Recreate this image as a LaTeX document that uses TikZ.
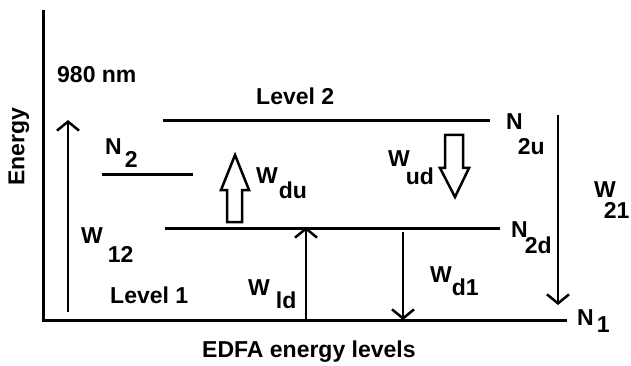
\documentclass[tikz,border=0pt]{standalone}
\usepackage{fontspec}
\setmainfont{Liberation Sans}
\usetikzlibrary{arrows.meta}
\newcommand{\subtxt}[4]{#1\hspace{#3}\raisebox{#4}{#2}}
\tikzset{
  level/.style={line width=3pt},
  barb/.style={line width=2.5pt,-{Straight Barb[length=9pt,width=22pt]}},
  hollow/.style={line width=2.5pt,line join=miter},
  lbl/.style={inner sep=0pt,anchor=base west}
}
\begin{document}
\begin{tikzpicture}[x=1pt,y=-1pt,font=\fontsize{23}{27}\selectfont\bfseries]
  \useasboundingbox (0,0) rectangle (631,366);
  % axes
  \coordinate (top) at (43,10);
  \coordinate (orig) at (43,320);
  \coordinate (xend) at (567,320);
  \draw[level] (top) -- (orig) -- (xend);
  % energy levels
  \coordinate (L2a) at (163,121);  \coordinate (L2b) at (490,121);
  \coordinate (N2a) at (102,175);  \coordinate (N2b) at (193,175);
  \coordinate (L2da) at (165,228); \coordinate (L2db) at (500,228);
  \draw[level] (L2a) -- (L2b);
  \draw[level] (N2a) -- (N2b);
  \draw[level] (L2da) -- (L2db);
  % transitions
  \coordinate (pumpS) at (68,312);  \coordinate (pumpE) at (68,120);
  \coordinate (sponS) at (558,115); \coordinate (sponE) at (558,305);
  \coordinate (ldS) at (306,320);   \coordinate (ldE) at (306,227);
  \coordinate (dlS) at (403,232);   \coordinate (dlE) at (403,320);
  \draw[barb] (pumpS) -- (pumpE);
  \draw[barb] (sponS) -- (sponE);
  \draw[barb] (ldS) -- (ldE);
  \draw[barb] (dlS) -- (dlE);
  % hollow arrows
  \draw[hollow] (227,222) -- (227,190) -- (221,190) -- (235,155) -- (249,190)
    -- (242,190) -- (242,222) -- cycle;
  \draw[hollow] (445,135) -- (445,168) -- (440,168) -- (455,197) -- (469,168)
    -- (463,168) -- (463,135) -- cycle;
  % labels
  \node[lbl] (nm) at (57,83) {980 nm};
  \node[lbl] (lv2) at (256,105) {Level 2};
  \node[lbl] (lv1) at (110,303) {Level 1};
  \node[lbl] (cap) at (202,357) {EDFA energy levels};
  \node[rotate=90] (en) at (19,147) {Energy};
  \node[lbl] (n2) at (105,155) {\subtxt{N}{2}{3pt}{-13pt}};
  \node[lbl] (wdu) at (256,183) {\subtxt{W}{du}{1pt}{-15pt}};
  \node[lbl] (n2u) at (506,130) {\subtxt{N}{2u}{-5pt}{-25pt}};
  \node[lbl] (wud) at (388,167) {\subtxt{W}{ud}{-4pt}{-18pt}};
  \node[lbl] (n2d) at (511,237) {\subtxt{N}{2d}{-3pt}{-16pt}};
  \node[lbl] (w21) at (594,197) {\subtxt{W}{21}{-12pt}{-21pt}};
  \node[lbl] (w12) at (81,243) {\subtxt{W}{12}{5pt}{-19pt}};
  \node[lbl] (wld) at (248,295) {\subtxt{W}{ld}{6pt}{-13pt}};
  \node[lbl] (wd1) at (430,282) {\subtxt{W}{d1}{0pt}{-13pt}};
  \node[lbl] (n1) at (577,325) {\subtxt{N}{1}{3pt}{-7pt}};
\end{tikzpicture}
\end{document}
